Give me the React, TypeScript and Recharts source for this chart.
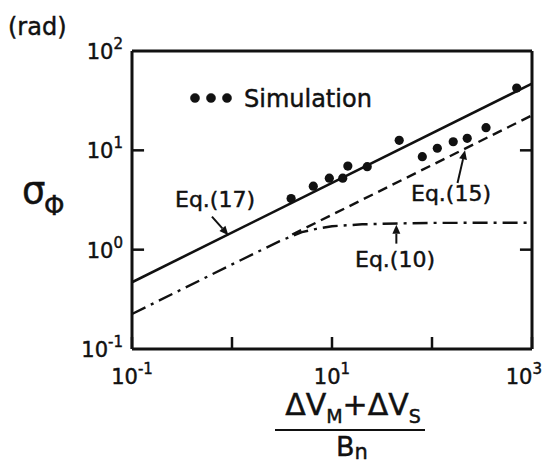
import { ComposedChart, Line, Scatter, XAxis, YAxis, ReferenceLine } from 'recharts';

// axis ticks (decades) and the exponent shown under each one ('' = tick without label)
const xTicks = [0.1, 1, 10, 100, 1000];
const xTickExp = ['-1', '', '1', '', '3'];
const yTicks = [0.1, 1, 10, 100];
const yTickExp = ['-1', '0', '1', '2'];
const yInnerTicks = [1, 10];

// simulation points
const simX = [3.9, 6.5, 9.4, 12.8, 14.4, 22.5, 47, 80, 113, 163, 225, 347, 703];
const simY = [3.27, 4.36, 5.25, 5.25, 6.94, 6.84, 12.6, 8.64, 10.5, 12.2, 13.2, 16.9, 42.3];

// Eq.(17) solid
const eq17X = [0.1, 1000];
const eq17Y = [0.47, 47];
// Eq.(15) dashed
const eq15X = [4, 1000];
const eq15Y = [1.42, 22.5];
// Eq.(10) dash-dot
const eq10X = [0.1, 1, 3, 5, 7, 10, 20, 50, 100, 1000];
const eq10Y = [0.225, 0.71, 1.22, 1.5, 1.62, 1.72, 1.8, 1.84, 1.86, 1.87];

const zip = (xs: number[], ys: number[]) => xs.map((x, i) => ({ x, y: ys[i] }));
const simData = zip(simX, simY);
const eq17Data = zip(eq17X, eq17Y);
const eq15Data = zip(eq15X, eq15Y);
const eq10Data = zip(eq10X, eq10Y);

const W = 544;
const INK = '#111';
const FONT = '"DejaVu Sans", sans-serif';
const txt = { fill: INK, stroke: INK, strokeWidth: 0.45, fontFamily: FONT };

// inward tick length, as a factor on the log axes (about 12px)
const TICK_F = 1.32;

const Pow = ({ x, y, exp, anchor }: any) => (
  <text x={x} y={y} textAnchor={anchor} {...txt} fontSize={21}>
    <tspan>10</tspan>
    <tspan dy={-10} fontSize={15}>{exp}</tspan>
  </text>
);

const BottomTick = (p: any) => {
  const exp = xTickExp[xTicks.indexOf(p.payload.value)];
  // last label would run off the page, keep it inside
  const nearEdge = p.x + 19 > W - 1;
  return (
    <g>
      <line x1={p.x} y1={p.y} x2={p.x} y2={p.y - 12} stroke={INK} strokeWidth={2.5} />
      {exp ? (
        <Pow x={nearEdge ? W - 2 : p.x} y={p.y + 35} exp={exp} anchor={nearEdge ? 'end' : 'middle'} />
      ) : null}
    </g>
  );
};

const TopTick = (p: any) => (
  <line x1={p.x} y1={p.y} x2={p.x} y2={p.y + 12} stroke={INK} strokeWidth={2.5} />
);

const LeftTick = (p: any) => {
  const exp = yTickExp[yTicks.indexOf(p.payload.value)];
  return <Pow x={p.x - 9} y={p.y + 8} exp={exp} anchor="end" />;
};

// annotation arrow, head at the second point
const Arrow = (p: any) => {
  const { x1, y1, x2, y2 } = p;
  const a = Math.atan2(y2 - y1, x2 - x1);
  const L = 9;
  const hw = 4;
  const bx = x2 - L * Math.cos(a);
  const by = y2 - L * Math.sin(a);
  const nx = -Math.sin(a) * hw;
  const ny = Math.cos(a) * hw;
  return (
    <g>
      <line x1={x1} y1={y1} x2={bx} y2={by} stroke={INK} strokeWidth={2} />
      <polygon points={`${x2},${y2} ${bx + nx},${by + ny} ${bx - nx},${by - ny}`} fill={INK} />
    </g>
  );
};

const Dot = (p: any) => <circle cx={p.cx} cy={p.cy} r={4.6} fill={INK} />;

export default function App() {
  return (
    <div style={{ position: 'absolute', left: 0, top: 0, width: 544, height: 463, background: '#fff' }}>
      <ComposedChart width={544} height={463} margin={{ top: 51, right: 12, bottom: 74, left: 72 }}>
        <XAxis
          dataKey="x"
          type="number"
          scale="log"
          domain={[0.1, 1000]}
          ticks={xTicks}
          interval={0}
          allowDataOverflow
          height={40}
          tickSize={0}
          tickMargin={0}
          tickLine={false}
          axisLine={{ stroke: INK, strokeWidth: 3 }}
          tick={(p: any) => <BottomTick {...p} />}
        />
        <XAxis
          xAxisId="top"
          orientation="top"
          dataKey="x"
          type="number"
          scale="log"
          domain={[0.1, 1000]}
          ticks={[1, 10, 100]}
          interval={0}
          allowDataOverflow
          height={0}
          tickSize={0}
          tickMargin={0}
          tickLine={false}
          axisLine={false}
          tick={(p: any) => <TopTick {...p} />}
        />
        <YAxis
          dataKey="y"
          type="number"
          scale="log"
          domain={[0.1, 100]}
          ticks={yTicks}
          interval={0}
          allowDataOverflow
          width={60}
          tickSize={0}
          tickMargin={0}
          tickLine={false}
          axisLine={{ stroke: INK, strokeWidth: 3 }}
          tick={(p: any) => <LeftTick {...p} />}
        />

        {/* top and right frame edges */}
        <ReferenceLine ifOverflow="visible" segment={[{ x: 0.1, y: 100 }, { x: 1000, y: 100 }]} stroke={INK} strokeWidth={3} />
        <ReferenceLine ifOverflow="visible" segment={[{ x: 1000, y: 0.1 }, { x: 1000, y: 100 }]} stroke={INK} strokeWidth={3} />

        {/* inward ticks on the left and right sides */}
        {yInnerTicks.map((v) => (
          <ReferenceLine key={'l' + v} ifOverflow="visible" segment={[{ x: 0.1, y: v }, { x: 0.1 * TICK_F, y: v }]} stroke={INK} strokeWidth={2.5} />
        ))}
        {yInnerTicks.map((v) => (
          <ReferenceLine key={'r' + v} ifOverflow="visible" segment={[{ x: 1000 / TICK_F, y: v }, { x: 1000, y: v }]} stroke={INK} strokeWidth={2.5} />
        ))}

        <Line data={eq10Data} dataKey="y" type="linear" stroke={INK} strokeWidth={2.4} strokeDasharray="15 6 3 6" dot={false} isAnimationActive={false} />
        <Line data={eq15Data} dataKey="y" type="linear" stroke={INK} strokeWidth={2.4} strokeDasharray="10 6" dot={false} isAnimationActive={false} />
        <Line data={eq17Data} dataKey="y" type="linear" stroke={INK} strokeWidth={2.6} dot={false} isAnimationActive={false} />
        <Scatter data={simData} dataKey="y" fill={INK} shape={(p: any) => <Dot {...p} />} isAnimationActive={false} />

        <ReferenceLine segment={[{ x: 0.63, y: 2.15 }, { x: 0.92, y: 1.4 }]} shape={(p: any) => <Arrow {...p} />} />
        <ReferenceLine segment={[{ x: 180, y: 4.7 }, { x: 214, y: 10 }]} shape={(p: any) => <Arrow {...p} />} />
        <ReferenceLine segment={[{ x: 44, y: 1.15 }, { x: 44, y: 1.78 }]} shape={(p: any) => <Arrow {...p} />} />

        <g {...txt}>
          <text x={8} y={35} fontSize={24}>(rad)</text>
          <text x={22} y={203} fontSize={37}>σ</text>
          <text x={44} y={215} fontSize={26}>Φ</text>

          <circle cx={195} cy={98} r={4.6} />
          <circle cx={211} cy={98} r={4.6} />
          <circle cx={227} cy={98} r={4.6} />
          <text x={244} y={107} fontSize={24}>Simulation</text>

          <text x={175} y={207} fontSize={22}>Eq.(17)</text>
          <text x={411} y={201} fontSize={22}>Eq.(15)</text>
          <text x={355} y={267} fontSize={22}>Eq.(10)</text>

          <text x={353} y={415} fontSize={30} textAnchor="middle">
            <tspan>ΔV</tspan>
            <tspan fontSize={19} dy={8}>M</tspan>
            <tspan dy={-8}>+ΔV</tspan>
            <tspan fontSize={19} dy={8}>S</tspan>
          </text>
          <line x1={275} y1={430} x2={425} y2={430} stroke={INK} strokeWidth={2.2} />
          <text x={352} y={456} fontSize={27} textAnchor="middle">
            <tspan>B</tspan>
            <tspan fontSize={21} dy={3}>n</tspan>
          </text>
        </g>
      </ComposedChart>
    </div>
  );
}
